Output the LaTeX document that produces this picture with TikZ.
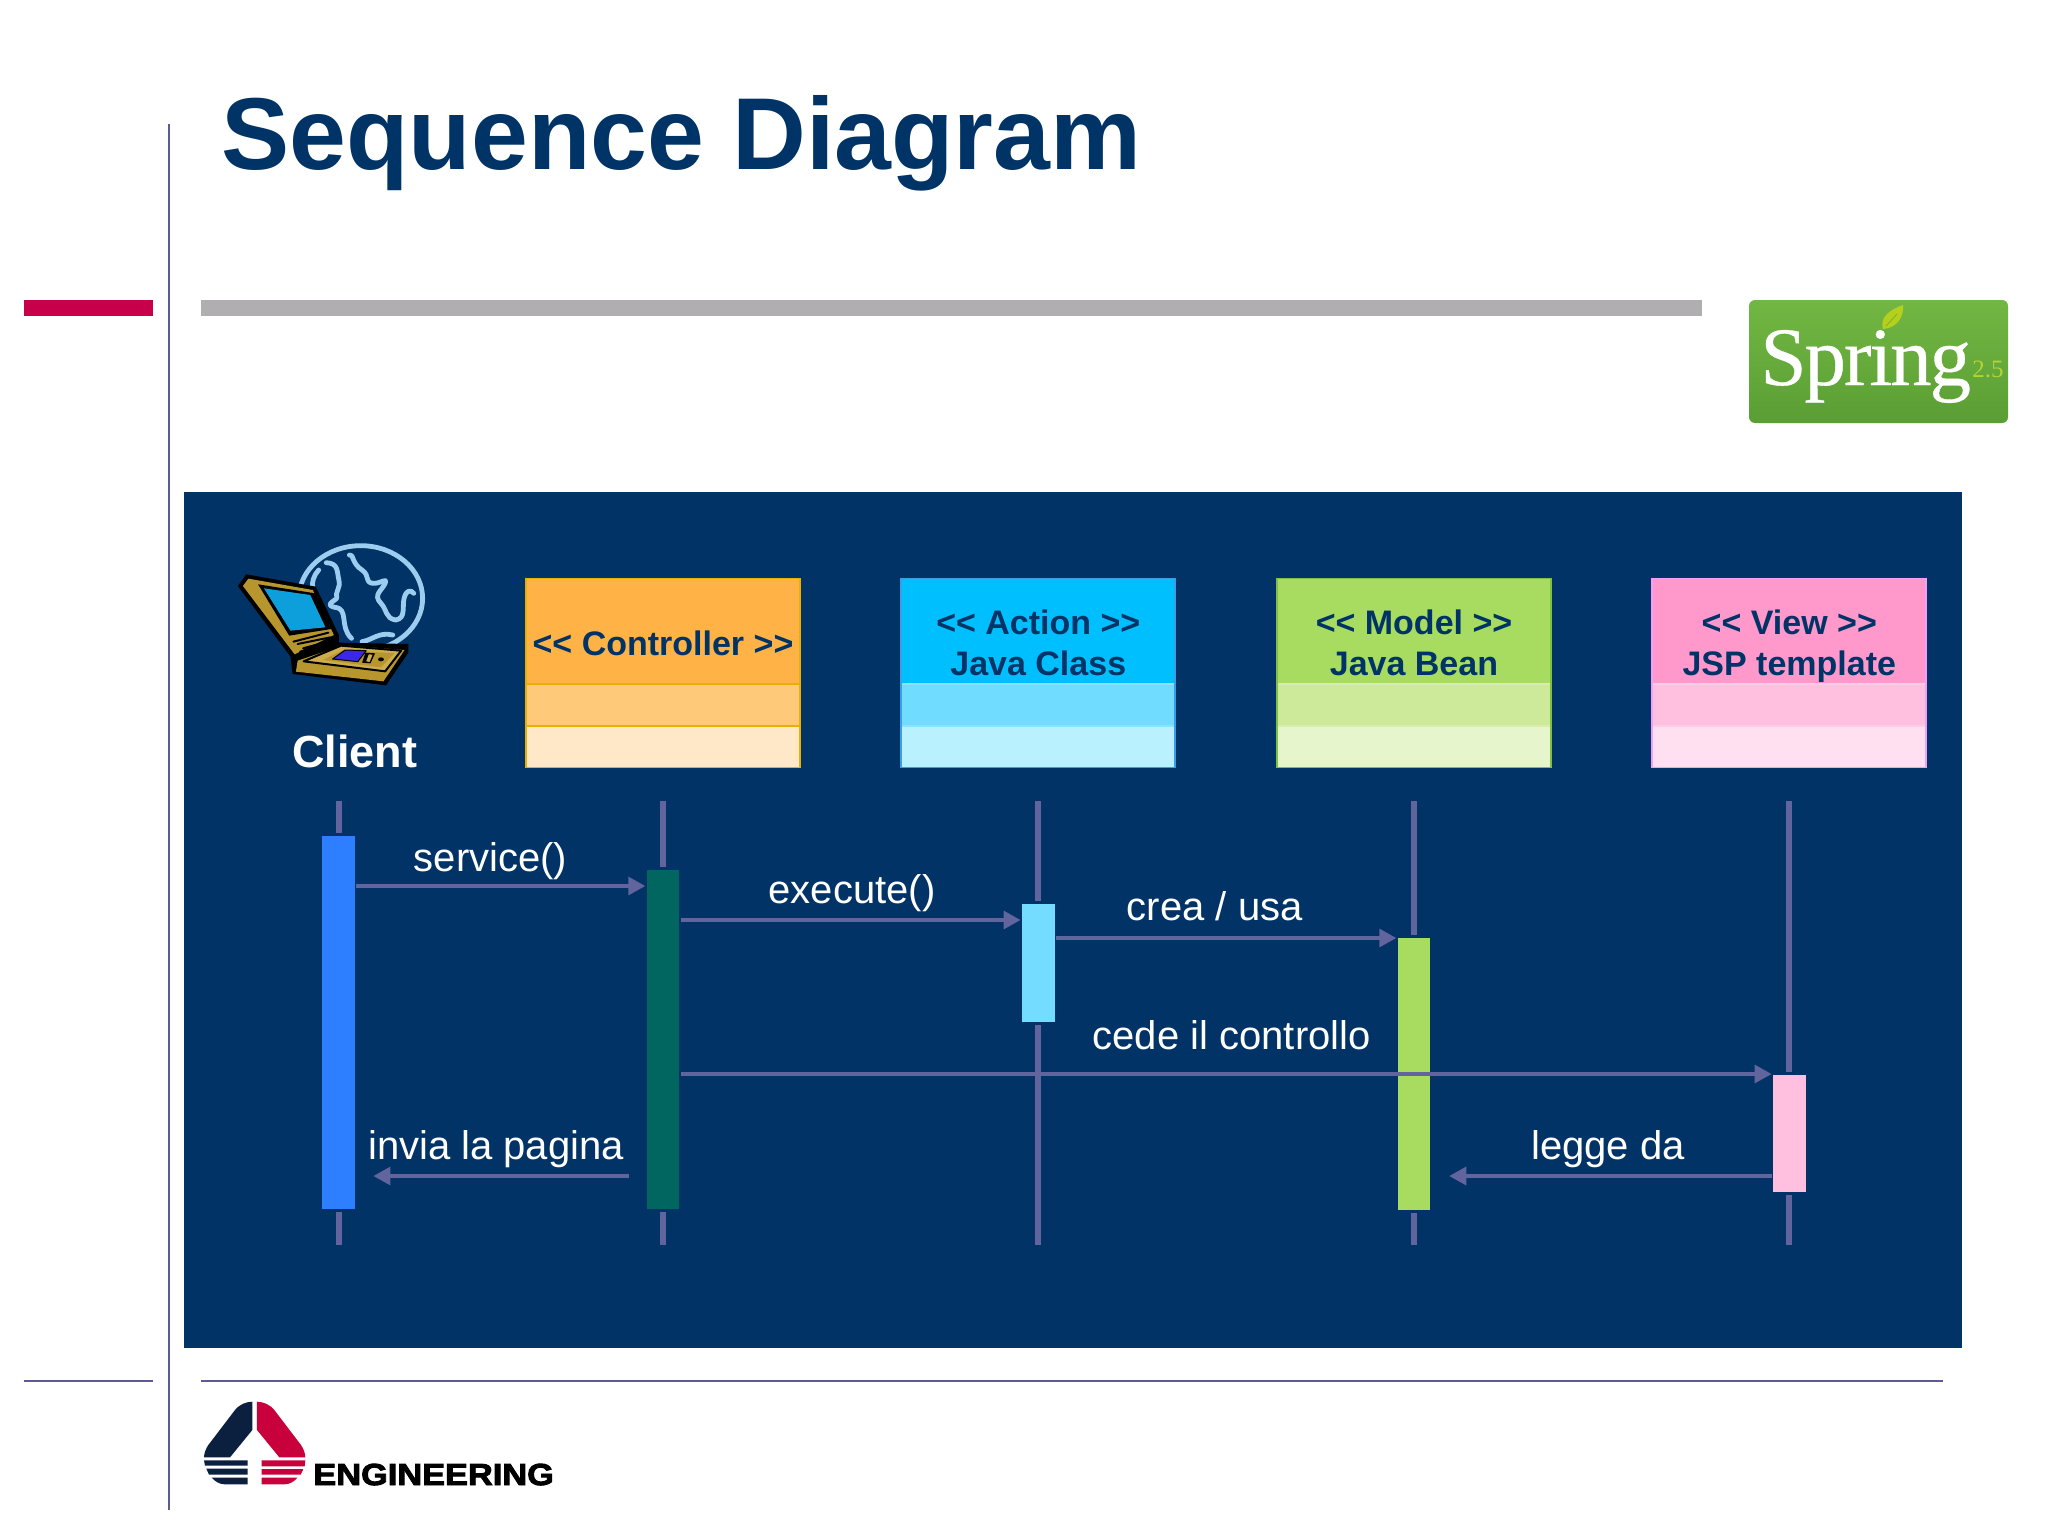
\documentclass[tikz,border=0pt]{standalone}
\usepackage{fontspec}
\setmainfont{Liberation Sans}
\newfontfamily\springfont[LetterSpace=-2.6,FakeBold=0.4]{Liberation Serif}
\newfontfamily\verfont{Liberation Serif}
\newfontfamily\engfont[FakeBold=3,FakeStretch=1.13]{Liberation Sans Bold}
\usetikzlibrary{arrows.meta}
\definecolor{navy}{HTML}{023366}
\definecolor{ttl}{HTML}{003366}
\definecolor{lin}{HTML}{62649E}
\definecolor{rulec}{HTML}{5D5A94}
\definecolor{redc}{HTML}{C8004B}
\definecolor{grayc}{HTML}{B0AEB0}
\definecolor{engnavy}{HTML}{0B1F3F}
\definecolor{engred}{HTML}{C8003C}
\definecolor{gold}{HTML}{B8962E}
\definecolor{goldl}{HTML}{CDAE4C}
\definecolor{globec}{HTML}{9CCDEE}
\definecolor{screenc}{HTML}{0D9FDC}
\definecolor{keysc}{HTML}{3A28E6}
\definecolor{sprT}{HTML}{72B743}
\definecolor{sprB}{HTML}{5A9E34}
\definecolor{sprV}{HTML}{B5D334}
\definecolor{leafc}{HTML}{B4CF1E}
\definecolor{veinc}{HTML}{82AF28}
\definecolor{actBlue}{HTML}{2E7FFF}
\definecolor{actTeal}{HTML}{00665F}
\definecolor{actSky}{HTML}{74DCFF}
\definecolor{ctlA}{HTML}{FFB347}\definecolor{ctlB}{HTML}{FFC97A}\definecolor{ctlC}{HTML}{FFE8C8}\definecolor{ctlE}{HTML}{E8B000}\definecolor{ctlD}{HTML}{E8B000}
\definecolor{actA}{HTML}{00BFFF}\definecolor{actB}{HTML}{70DCFF}\definecolor{actC}{HTML}{BAF1FF}\definecolor{actE}{HTML}{3B9CE8}\definecolor{actD}{HTML}{8BE2FF}
\definecolor{modA}{HTML}{A8DC60}\definecolor{modB}{HTML}{CDE99A}\definecolor{modC}{HTML}{E6F5CC}\definecolor{modE}{HTML}{80C040}\definecolor{modD}{HTML}{D6EDAC}
\definecolor{vieA}{HTML}{FF99CC}\definecolor{vieB}{HTML}{FFC0E0}\definecolor{vieC}{HTML}{FFE0F0}\definecolor{vieE}{HTML}{F0A0F8}\definecolor{vieD}{HTML}{FFCBE6}
\tikzset{
  x=0.5pt,y=-0.5pt,
  head/.style={font=\fontsize{17}{19}\selectfont\bfseries,text=ttl,anchor=base,inner sep=0},
  cell/.style={rectangle,minimum width=137pt,inner sep=0,outer sep=0,anchor=north},
  life/.style={draw=lin,line width=3pt},
  act/.style={rectangle,minimum width=17.75pt,inner sep=0,outer sep=0,draw=navy,line width=1.5pt},
  msg/.style={draw=lin,line width=1.6pt,-{Triangle[length=8.5pt,width=9pt]}},
  lab/.style={font=\fontsize{20}{24}\selectfont,text=white,anchor=base,inner sep=0},
}
% name, centre x, colour prefix
\newcommand{\umlbox}[3]{%
  \node[cell,fill=#3A,minimum height=52.5pt] (#1a) at (#2,578.5) {};
  \node[cell,fill=#3B,minimum height=21pt] (#1b) at (#2,683.5) {};
  \node[cell,fill=#3C,minimum height=21pt] (#1c) at (#2,725.5) {};
  \draw[#3D,line width=1pt] (#1b.north west) -- (#1b.north east) (#1c.north west) -- (#1c.north east);
  \draw[#3E,line width=.9pt] (#1a.north west) rectangle (#1c.south east);
}
\begin{document}
\begin{tikzpicture}
\useasboundingbox (0,0) rectangle (2048,1536);
\fill[white] (0,0) rectangle (2048,1536);
% frame
\draw[rulec,line width=1pt] (168.5,124) -- (168.5,1510);
\fill[redc] (24,300) rectangle (153,316);
\fill[grayc] (201,300) rectangle (1702,316);
\draw[rulec,line width=1pt] (24,1380.5) -- (153,1380.5) (201,1380.5) -- (1943,1380.5);
\node[font=\fontsize{51.1}{55}\selectfont\bfseries,text=ttl,anchor=base west,inner sep=0] (title) at (221,169) {Sequence Diagram};
% Spring logo
\shade[rounded corners=3pt,top color=sprT,bottom color=sprB] (1749,300) rectangle (2008,423);
\node[font=\fontsize{41.5}{44}\springfont,text=white,anchor=base west,inner sep=0] (spring) at (1760,385) {Spring};
\node[font=\fontsize{12.5}{15}\verfont,text=sprV,anchor=base west,inner sep=0] (ver) at (1972,377) {2.5};
\fill[leafc] (1883,329) .. controls (1879,317) and (1891,309) .. (1903,305) .. controls (1904,317) and (1897,328) .. (1883,329);
\draw[veinc,line width=.4pt] (1886,326) -- (1897,314);
% panel
\fill[navy] (184,492) rectangle (1962,1348);
% Engineering logo
\begin{scope}[shift={(180,1380)},x=0.5pt/3,y=-0.5pt/3]
\fill[engnavy] (217,65) -- (217,150) -- (150,232) -- (72,232) .. controls (72,220) and (78,205) .. (85,195) -- (165,90) .. controls (180,72) and (198,66) .. (217,65) -- cycle;
\fill[engred] (231,65) -- (231,150) -- (298,232) -- (376,232) .. controls (376,220) and (370,205) .. (363,195) -- (283,90) .. controls (268,72) and (250,66) .. (231,65) -- cycle;
\fill[engnavy] (72,241) -- (203,241) -- (203,257) -- (75,257) -- cycle
 (79,266) -- (203,266) -- (203,284) -- (87,284) -- cycle
 (95,293) -- (203,293) -- (203,313) -- (135,313) .. controls (118,313) and (105,304) .. (95,293) -- cycle;
\fill[engred] (245,241) -- (376,241) -- (374,259) -- (245,259) -- cycle
 (245,267) -- (370,267) -- (362,284) -- (245,284) -- cycle
 (245,293) -- (352,293) .. controls (343,304) and (330,313) .. (313,313) -- (245,313) -- cycle;
\end{scope}
\node[font=\fontsize{15.2}{17}\engfont,text=black,anchor=base west,inner sep=0] (eng) at (313,1485) {ENGINEERING};
% client icon
\begin{scope}[shift={(200,500)},x=0.5pt/2.376,y=-0.5pt/3,line join=round,line cap=round]
\draw[globec,line width=2.4pt] (382,295) ellipse [x radius=147,y radius=158];
\draw[globec,line width=2.4pt] (355,165) .. controls (365,160) and (360,190) .. (385,210) .. controls (405,228) and (390,245) .. (410,250) .. controls (430,252) and (445,230) .. (440,250) .. controls (432,272) and (410,285) .. (430,310) .. controls (445,330) and (440,355) .. (465,360) .. controls (490,355) and (480,320) .. (485,295) .. controls (490,270) and (500,268) .. (508,280);
\draw[globec,line width=2.4pt] (300,188) .. controls (330,190) and (325,215) .. (330,240) .. controls (335,265) and (320,275) .. (325,295) .. controls (310,310) and (300,315) .. (320,322) .. controls (355,325) and (330,380) .. (360,415);
\draw[globec,line width=2.4pt] (282,210) .. controls (270,225) and (265,250) .. (268,262);
\draw[globec,line width=2.4pt] (385,425) .. controls (410,420) and (425,395) .. (458,405);
% laptop
\fill[black] (90,258) -- (110,223) -- (275,260) -- (330,405) -- (330,428) -- (495,432) -- (495,458) -- (442,556) -- (220,522) -- (215,470) -- cycle;
\fill[gold] (102,258) -- (115,236) -- (268,270) -- (318,405) -- (225,463) -- cycle;
\fill[black] (138,253) -- (274,280) -- (312,387) -- (212,407) -- cycle;
\fill[screenc] (152,265) -- (262,285) -- (298,382) -- (215,392) -- cycle;
\draw[black,line width=1pt] (222,425) -- (305,398) (232,432) -- (310,412) -- (312,422) -- (245,445) (238,455) -- (322,425);
\fill[gold] (228,515) -- (436,544) -- (486,450) -- (340,436) -- (232,482) -- cycle;
\fill[goldl,draw=black,line width=1pt] (246,484) -- (335,437) -- (478,452) -- (440,514) -- cycle;
\fill[gold] (292,480) -- (340,450) -- (462,460) -- (430,502) -- cycle;
\fill[keysc,draw=black,line width=.5pt] (315,477) -- (345,450) -- (395,452) -- (375,485) -- cycle;
\fill[black] (385,488) -- (393,458) -- (416,460) -- (405,490) -- cycle;
\fill[goldl] (395,484) -- (401,463) -- (410,464) -- (403,486) -- cycle;
\fill[black] (430,478) ellipse [x radius=7,y radius=6];
\end{scope}
\node[font=\fontsize{22.5}{26}\selectfont\bfseries,text=white,anchor=base,inner sep=0] (client) at (354.6,767) {Client};
% boxes
\umlbox{ctl}{663}{ctl}
\umlbox{ac}{1038.3}{act}
\umlbox{mo}{1414}{mod}
\umlbox{vw}{1789.3}{vie}
\node[head] (ctlt) at (663,655) {<{}< Controller >{}>};
\node[head] (ac1) at (1038.3,634) {<{}< Action >{}>};
\node[head] (ac2) at (1038.3,675) {Java Class};
\node[head] (mo1) at (1414,634) {<{}< Model >{}>};
\node[head] (mo2) at (1414,675) {Java Bean};
\node[head] (vw1) at (1789.3,634) {<{}< View >{}>};
\node[head] (vw2) at (1789.3,675) {JSP template};
% lifelines
\foreach \n/\xx in {1/338.7,2/663,3/1038.3,4/1414,5/1789.3}{
  \coordinate (l\n t) at (\xx,801);
  \coordinate (l\n b) at (\xx,1245);
  \draw[life] (l\n t) -- (l\n b);
}
% activations
\node[act,fill=actBlue,minimum height=188pt] (a1) at (338.7,1022.5) {};
\node[act,fill=actTeal,minimum height=171pt] (a2) at (663,1039.5) {};
\node[act,fill=actSky,minimum height=60.5pt] (a3) at (1038.3,963) {};
\node[act,fill=modA,minimum height=137.25pt] (a4) at (1414,1073.75) {};
\node[act,fill=vieB,minimum height=60pt] (a5) at (1789.3,1133.5) {};
% messages
\coordinate (m1) at (0,886);
\coordinate (m2) at (0,920);
\coordinate (m3) at (0,938);
\coordinate (m4) at (0,1074);
\coordinate (m5) at (0,1176);
\draw[msg] (a1.east |- m1) -- (a2.west |- m1);
\draw[msg] (a2.east |- m2) -- (a3.west |- m2);
\draw[msg] (a3.east |- m3) -- (a4.west |- m3);
\draw[msg] (a2.east |- m4) -- (a5.west |- m4);
\draw[msg,shorten <=8.25pt,shorten >=8.5pt] (a2.west |- m5) -- (a1.east |- m5);
\draw[msg,shorten >=8.75pt] (a5.west |- m5) -- (a4.east |- m5);
% labels
\node[lab] (t1) at (490.5,871.5) {service()};
\node[lab] (t2) at (852,903.5) {execute()};
\node[lab] (t3) at (1214.7,920.5) {crea / usa};
\node[lab] (t4) at (1231.7,1049) {cede il controllo};
\node[lab] (t5) at (496,1159.5) {invia la pagina};
\node[lab] (t6) at (1608,1159.5) {legge da};
\end{tikzpicture}
\end{document}
